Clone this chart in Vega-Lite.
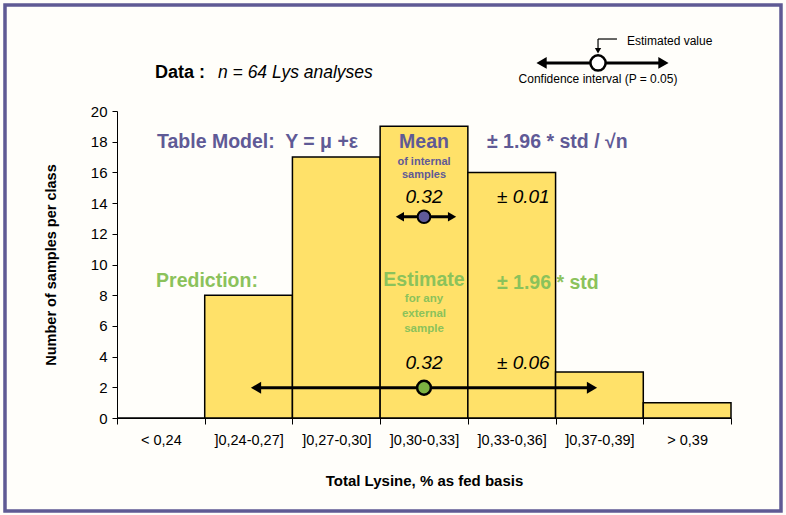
{
  "$schema": "https://vega.github.io/schema/vega-lite/v6.json",
  "width": 614,
  "height": 307,
  "autosize": {"type": "none"},
  "padding": {"left": 117, "top": 111, "right": 55, "bottom": 97},
  "background": "#fffefa",
  "config": {"view": {"stroke": null}, "font": "Liberation Sans"},
  "datasets": {
    "bins": [
      {"cls": "< 0,24", "n": 0},
      {"cls": "]0,24-0,27]", "n": 8},
      {"cls": "]0,27-0,30]", "n": 17},
      {"cls": "]0,30-0,33]", "n": 19},
      {"cls": "]0,33-0,36]", "n": 16},
      {"cls": "]0,37-0,39]", "n": 3},
      {"cls": "> 0,39", "n": 1}
    ],
    "frame": [{"x": -1.277, "x2": 7.57, "y": -6.06, "y2": 26.9}],
    "segments": [
      {"arrow": "legend", "x": 4.85, "x2": 6.22, "y": 23.13, "y2": 23.13},
      {"arrow": "pointer", "x": 5.484, "x2": 5.70, "y": 24.69, "y2": 24.69},
      {"arrow": "pointer", "x": 5.484, "x2": 5.484, "y": 24.69, "y2": 24.0},
      {"arrow": "mean", "x": 3.22, "x2": 3.82, "y": 13.11, "y2": 13.11},
      {"arrow": "prediction", "x": 1.58, "x2": 5.42, "y": 1.97, "y2": 1.97}
    ],
    "heads": [
      {"arrow": "legend", "side": "left", "x": 4.84, "y": 23.13},
      {"arrow": "legend", "side": "right", "x": 6.23, "y": 23.13},
      {"arrow": "pointer", "side": "down", "x": 5.484, "y": 23.93},
      {"arrow": "mean", "side": "left", "x": 3.225, "y": 13.11},
      {"arrow": "mean", "side": "right", "x": 3.82, "y": 13.11},
      {"arrow": "prediction", "side": "left", "x": 1.585, "y": 1.97},
      {"arrow": "prediction", "side": "right", "x": 5.415, "y": 1.97}
    ],
    "dots": [
      {"arrow": "legend", "x": 5.484, "y": 23.13},
      {"arrow": "mean", "x": 3.5, "y": 13.11},
      {"arrow": "prediction", "x": 3.5, "y": 1.97}
    ],
    "labels": [
      {"kind": "data_bold", "x": 0.433, "y": 22.48, "text": "Data :"},
      {"kind": "data_italic", "x": 1.151, "y": 22.48, "text": "n = 64 Lys analyses"},
      {"kind": "legend_left", "x": 5.814, "y": 24.56, "text": "Estimated value"},
      {"kind": "legend_center", "x": 5.484, "y": 22.08, "text": "Confidence interval (P = 0.05)"},
      {"kind": "head_purple", "x": 0.456, "y": 17.98, "text": "Table Model:\u00a0 Y = μ +ε"},
      {"kind": "head_purple", "x": 4.218, "y": 17.98, "text": "± 1.96 * std / √n"},
      {"kind": "center_purple", "x": 3.5, "y": 17.98, "text": "Mean"},
      {"kind": "sub_purple", "x": 3.5, "y": 16.66, "text": "of internal"},
      {"kind": "sub_purple", "x": 3.5, "y": 15.8, "text": "samples"},
      {"kind": "val_center", "x": 3.5, "y": 14.4, "text": "0.32"},
      {"kind": "val_left", "x": 4.332, "y": 14.4, "text": "± 0.01"},
      {"kind": "head_green", "x": 0.445, "y": 8.94, "text": "Prediction:"},
      {"kind": "head_green", "x": 4.332, "y": 8.81, "text": "± 1.96 * std"},
      {"kind": "center_green", "x": 3.5, "y": 8.99, "text": "Estimate"},
      {"kind": "sub_green", "x": 3.5, "y": 7.75, "text": "for any"},
      {"kind": "sub_green", "x": 3.5, "y": 6.78, "text": "external"},
      {"kind": "sub_green", "x": 3.5, "y": 5.8, "text": "sample"},
      {"kind": "val_center", "x": 3.5, "y": 3.6, "text": "0.32"},
      {"kind": "val_left", "x": 4.332, "y": 3.6, "text": "± 0.06"}
    ]
  },
  "layer": [
    {
      "data": {"name": "bins"},
      "mark": {"type": "bar", "fill": "#ffe169", "stroke": "black", "strokeWidth": 1.5},
      "encoding": {
        "x": {
          "field": "cls", "type": "nominal", "sort": null,
          "scale": {"paddingInner": 0, "paddingOuter": 0},
          "axis": {
            "title": "Total Lysine, % as fed basis",
            "labelAngle": 0, "tickBand": "extent",
            "domainColor": "black", "tickColor": "black", "tickSize": 6,
            "labelFontSize": 14.5, "labelColor": "black", "labelPadding": 9,
            "titleFontSize": 15, "titleFontWeight": "bold", "titleColor": "black", "titlePadding": 27
          }
        },
        "y": {
          "field": "n", "type": "quantitative",
          "scale": {"domain": [0, 20], "nice": false},
          "axis": {
            "title": "Number of samples per class",
            "values": [0, 2, 4, 6, 8, 10, 12, 14, 16, 18, 20],
            "grid": false,
            "domainColor": "black", "tickColor": "black", "tickSize": 5,
            "labelFontSize": 15, "labelColor": "black", "labelPadding": 5,
            "titleFontSize": 14.5, "titleFontWeight": "bold", "titleColor": "black", "titlePadding": 32
          }
        }
      }
    },
    {
      "encoding": {
        "x": {"field": "x", "type": "quantitative", "scale": {"domain": [0, 7], "nice": false, "zero": false}, "axis": null},
        "y": {"field": "y", "type": "quantitative", "scale": {"domain": [0, 20], "nice": false, "zero": false}, "axis": null}
      },
      "layer": [
        {
          "data": {"name": "frame"},
          "mark": {"type": "rect", "fillOpacity": 0, "stroke": "#5f5a94", "strokeWidth": 3.5},
          "encoding": {"x2": {"field": "x2"}, "y2": {"field": "y2"}}
        },
        {
          "data": {"name": "segments"},
          "transform": [{"filter": "datum.arrow !== 'pointer'"}],
          "mark": {"type": "rule", "color": "black", "strokeWidth": 3},
          "encoding": {"x2": {"field": "x2"}, "y2": {"field": "y2"}}
        },
        {
          "data": {"name": "segments"},
          "transform": [{"filter": "datum.arrow === 'pointer'"}],
          "mark": {"type": "rule", "color": "black", "strokeWidth": 1.2},
          "encoding": {"x2": {"field": "x2"}, "y2": {"field": "y2"}}
        },
        {
          "data": {"name": "heads"},
          "transform": [{"filter": "datum.side === 'left' && datum.arrow !== 'mean'"}],
          "mark": {"type": "point", "shape": "triangle-left", "filled": true, "color": "black", "opacity": 1, "size": 140}
        },
        {
          "data": {"name": "heads"},
          "transform": [{"filter": "datum.side === 'right' && datum.arrow !== 'mean'"}],
          "mark": {"type": "point", "shape": "triangle-right", "filled": true, "color": "black", "opacity": 1, "size": 140}
        },
        {
          "data": {"name": "heads"},
          "transform": [{"filter": "datum.side === 'left' && datum.arrow === 'mean'"}],
          "mark": {"type": "point", "shape": "triangle-left", "filled": true, "color": "black", "opacity": 1, "size": 90}
        },
        {
          "data": {"name": "heads"},
          "transform": [{"filter": "datum.side === 'right' && datum.arrow === 'mean'"}],
          "mark": {"type": "point", "shape": "triangle-right", "filled": true, "color": "black", "opacity": 1, "size": 90}
        },
        {
          "data": {"name": "heads"},
          "transform": [{"filter": "datum.side === 'down'"}],
          "mark": {"type": "point", "shape": "triangle-down", "filled": true, "color": "black", "opacity": 1, "size": 40}
        },
        {
          "data": {"name": "dots"},
          "transform": [{"filter": "datum.arrow === 'legend'"}],
          "mark": {"type": "point", "shape": "circle", "filled": true, "fill": "#ffffff", "stroke": "black", "strokeWidth": 2.5, "opacity": 1, "size": 230}
        },
        {
          "data": {"name": "dots"},
          "transform": [{"filter": "datum.arrow === 'mean'"}],
          "mark": {"type": "point", "shape": "circle", "filled": true, "fill": "#5f5a9a", "stroke": "black", "strokeWidth": 2, "opacity": 1, "size": 160}
        },
        {
          "data": {"name": "dots"},
          "transform": [{"filter": "datum.arrow === 'prediction'"}],
          "mark": {"type": "point", "shape": "circle", "filled": true, "fill": "#7cb342", "stroke": "black", "strokeWidth": 2.5, "opacity": 1, "size": 190}
        },
        {
          "data": {"name": "labels"},
          "transform": [{"filter": "datum.kind === 'data_bold'"}],
          "mark": {"type": "text", "align": "left", "baseline": "middle", "fontSize": 18, "fontWeight": "bold", "color": "black"},
          "encoding": {"text": {"field": "text"}}
        },
        {
          "data": {"name": "labels"},
          "transform": [{"filter": "datum.kind === 'data_italic'"}],
          "mark": {"type": "text", "align": "left", "baseline": "middle", "fontSize": 17.5, "fontStyle": "italic", "color": "black"},
          "encoding": {"text": {"field": "text"}}
        },
        {
          "data": {"name": "labels"},
          "transform": [{"filter": "datum.kind === 'legend_left'"}],
          "mark": {"type": "text", "align": "left", "baseline": "middle", "fontSize": 12, "color": "black"},
          "encoding": {"text": {"field": "text"}}
        },
        {
          "data": {"name": "labels"},
          "transform": [{"filter": "datum.kind === 'legend_center'"}],
          "mark": {"type": "text", "align": "center", "baseline": "middle", "fontSize": 12, "color": "black"},
          "encoding": {"text": {"field": "text"}}
        },
        {
          "data": {"name": "labels"},
          "transform": [{"filter": "datum.kind === 'head_purple'"}],
          "mark": {"type": "text", "align": "left", "baseline": "middle", "fontSize": 19.5, "fontWeight": "bold", "color": "#5f5a96"},
          "encoding": {"text": {"field": "text"}}
        },
        {
          "data": {"name": "labels"},
          "transform": [{"filter": "datum.kind === 'center_purple'"}],
          "mark": {"type": "text", "align": "center", "baseline": "middle", "fontSize": 19.5, "fontWeight": "bold", "color": "#5f5a96"},
          "encoding": {"text": {"field": "text"}}
        },
        {
          "data": {"name": "labels"},
          "transform": [{"filter": "datum.kind === 'sub_purple'"}],
          "mark": {"type": "text", "align": "center", "baseline": "middle", "fontSize": 11, "fontWeight": "bold", "color": "#5f5a96"},
          "encoding": {"text": {"field": "text"}}
        },
        {
          "data": {"name": "labels"},
          "transform": [{"filter": "datum.kind === 'head_green'"}],
          "mark": {"type": "text", "align": "left", "baseline": "middle", "fontSize": 19.5, "fontWeight": "bold", "color": "#8bc25b"},
          "encoding": {"text": {"field": "text"}}
        },
        {
          "data": {"name": "labels"},
          "transform": [{"filter": "datum.kind === 'center_green'"}],
          "mark": {"type": "text", "align": "center", "baseline": "middle", "fontSize": 19.5, "fontWeight": "bold", "color": "#8bc25b"},
          "encoding": {"text": {"field": "text"}}
        },
        {
          "data": {"name": "labels"},
          "transform": [{"filter": "datum.kind === 'sub_green'"}],
          "mark": {"type": "text", "align": "center", "baseline": "middle", "fontSize": 11.5, "fontWeight": "bold", "color": "#8bc25b"},
          "encoding": {"text": {"field": "text"}}
        },
        {
          "data": {"name": "labels"},
          "transform": [{"filter": "datum.kind === 'val_center'"}],
          "mark": {"type": "text", "align": "center", "baseline": "middle", "fontSize": 19, "fontStyle": "italic", "color": "black"},
          "encoding": {"text": {"field": "text"}}
        },
        {
          "data": {"name": "labels"},
          "transform": [{"filter": "datum.kind === 'val_left'"}],
          "mark": {"type": "text", "align": "left", "baseline": "middle", "fontSize": 19, "fontStyle": "italic", "color": "black"},
          "encoding": {"text": {"field": "text"}}
        }
      ]
    }
  ],
  "resolve": {"scale": {"x": "independent", "y": "independent"}}
}
